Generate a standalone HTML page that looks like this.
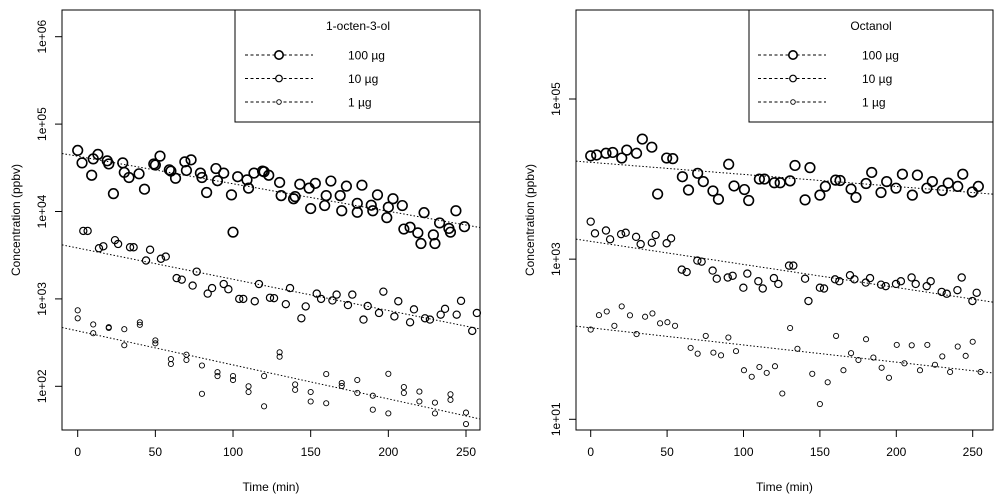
<!DOCTYPE html>
<html><head><meta charset="utf-8">
<style>
html,body{margin:0;padding:0;background:#fff;}
svg{display:block;font-family:"Liberation Sans",Arial,sans-serif;}
</style></head>
<body>
<svg id="chart" width="1000" height="498" viewBox="0 0 1000 498" xmlns="http://www.w3.org/2000/svg"></svg>
<script>
// ---- Left panel data: 1-octen-3-ol ----
const L100_t=[0,2.8,9,10,13,19,20,23,29,30,33,39.5,43,49,50,53,59,60,63,69,70,73,79,80,83,89,90,94,99,100,103,109,110,113.5,119,120,123,130,131,139,140,143,149,150,153,159,160,163,169,170,173,180,180,183,189,190,193,199,200,203,209,210,214,219,221,223,229,230,233,239,240,243.5,249];
const L100_v=[50000,36000,26000,40000,45000,38000,35000,16000,36000,28000,24500,27000,18000,35000,34000,43000,30000,29000,24000,37000,29500,39000,27500,24500,16500,31000,22500,27500,15500,5800,25000,23000,18500,27500,29000,28500,26000,21500,15200,14000,14800,20500,18500,10800,21000,11700,15200,22300,15200,10200,19500,12400,9800,20000,11800,10200,15500,8500,11200,14000,11700,6300,6600,5700,4300,9700,5400,4300,7400,6400,5800,10200,6700];
const L10_t=[3.6,6.4,13.7,16.5,24,26,33.7,36,44,46.6,53.6,56.7,63.7,67,74,76.6,83.7,86.5,94,97,104,106.6,114,116.7,123.8,126.4,134,136.7,144,146.8,153.9,156.7,164,166.7,174,176.8,184,186.7,194,196.8,203.9,206.4,214,216.5,223.6,226.8,233.7,236.5,244,246.8,254,257];
const L10_v=[6000,6000,3800,4000,4700,4250,3900,3900,2750,3650,2880,3050,1730,1660,1420,2050,1150,1330,1480,1290,1000,1000,940,1480,1030,1020,870,1330,600,820,1150,1000,960,1120,850,1120,580,830,690,1210,630,940,540,760,600,580,660,770,660,950,430,690];
const L1_t=[0,0,10,10,20,20,30,30,40,40,50,50,60,60,70,70,80,80,90,90,100,100,110,110,120,120,130,130,140,140,150,150,160,160,170,170,180,180,190,190,200,200,210,210,220,220,230,230,240,240,250,250];
const L1_v=[740,600,510,405,475,465,450,295,540,505,335,310,205,180,230,200,173,82,145,131,131,118,100,86,131,59,245,218,105,91,86,67,138,64,109,101,118,84,78,54,139,49,98,84,87,67,65,49,81,70,50,37];
const L_ticksY=[100,1000,10000,100000,1000000];
const L_tickLabelsY=["1e+02","1e+03","1e+04","1e+05","1e+06"];
// ---- Right panel data: Octanol ----
const R100_t=[0,3.9,10,14.4,20.3,23.6,30,33.8,40,43.8,49.7,53.7,60,64,70,73.7,80,83.6,90.3,93.8,100.6,103.4,110.4,113.7,120.2,124,130.5,133.7,140.3,143.5,150,153.6,160.3,163.2,170.4,173.6,180.2,183.9,190,193.7,199.8,204,210.5,213.8,220,223.6,230.1,234,240.2,243.5,249.8,253.7];
const R100_v=[19500,20000,21000,21500,18300,23000,21000,31600,25000,6500,18300,18000,10700,7300,11800,9300,7100,5600,15300,8200,7400,5400,10000,10000,9000,9000,9500,14800,5500,13900,6300,8100,9700,9600,7500,5900,8800,12100,6800,9300,7700,11500,6300,11200,7700,9300,7200,8900,8100,11500,6900,8100];
const R10_t=[0,2.8,10,12.7,19.9,22.9,29.7,32.7,40,42.5,49.7,52.6,59.6,62.8,69.8,72.6,79.8,82.5,89.7,92.9,99.9,102.5,109.7,112.6,119.9,122.8,129.8,132.6,140.3,142.5,150,152.7,159.9,162.7,169.7,172.6,180,182.8,190,193.1,199.8,203,210,212.7,219.9,222.5,229.7,233,240,242.8,249.8,252.6];
const R10_v=[2940,2100,2280,1770,2050,2140,1900,1540,1600,2000,1580,1820,740,690,960,930,720,570,590,620,440,660,530,430,580,490,830,830,570,300,440,430,560,530,630,560,510,580,480,460,490,530,590,490,460,530,390,370,410,590,300,380];
const R1_t=[0,5.4,10.5,15.5,20.3,25.7,30,35.6,40.4,45.4,50.2,55.2,65.4,70,75.3,80.3,85.3,90.1,95.1,100.3,105.4,110.4,115.2,120.6,125.4,130.5,135.3,145,150,155.1,160.6,165.4,170.4,175.2,180.2,185,190.4,195.2,200.3,205.3,210.1,215.5,220.3,225.3,230.1,235.2,240.2,245.4,250,255.2];
const R1_v=[132,200,222,147,257,199,116,191,210,158,163,147,78,66,110,68,63,105,71,41,34,45,38,46,21,138,76,37,15.5,29,110,41,67,55,100,59,44,33,85,50,84,41,85,48,61,39,81,62,93,39];
const R_ticksY=[10,1000,100000];
const R_tickLabelsY=["1e+01","1e+03","1e+05"];
const ticksX=[0,50,100,150,200,250];
const legendLabels=["100 µg","10 µg","1 µg"];

const NS="http://www.w3.org/2000/svg";
const svg=document.getElementById('chart');
function mk(tag,attrs,parent){const e=document.createElementNS(NS,tag);for(const k in attrs)e.setAttribute(k,attrs[k]);(parent||svg).appendChild(e);return e;}

function panel(cfg){
  const g=mk('g',{});
  
  
  const xs=t=>cfg.x0+(t-0)*(cfg.x250-cfg.x0)/250;
  const ys=v=>cfg.yA+(Math.log10(v)-cfg.logA)*(cfg.yB-cfg.yA)/(cfg.logB-cfg.logA);
  // plot box
  const box=mk('rect',{x:cfg.bx0,y:cfg.by0,width:cfg.bx1-cfg.bx0,height:cfg.by1-cfg.by0,fill:'none',stroke:'#000','stroke-width':1},g);
  
  
  // x axis
  const xa=mk('g',{},g);
  
  
  mk('line',{x1:xs(ticksX[0]),x2:xs(ticksX[ticksX.length-1]),y1:cfg.by1,y2:cfg.by1,stroke:'#000'},xa);
  ticksX.forEach(t=>{
    mk('line',{x1:xs(t),x2:xs(t),y1:cfg.by1,y2:cfg.by1+7,stroke:'#000'},xa);
    const tx=mk('text',{x:xs(t),y:cfg.by1+26,'text-anchor':'middle','font-size':12},xa);
    tx.textContent=t;
    
    
  });
  const xt=mk('text',{x:(cfg.bx0+cfg.bx1)/2,y:491,'text-anchor':'middle','font-size':12},g);
  xt.textContent='Time (min)';
  
  
  // y axis
  const ya=mk('g',{},g);
  
  
  mk('line',{x1:cfg.bx0,x2:cfg.bx0,y1:ys(cfg.ticksY[0]),y2:ys(cfg.ticksY[cfg.ticksY.length-1]),stroke:'#000'},ya);
  cfg.ticksY.forEach((v,i)=>{
    const y=ys(v);
    mk('line',{x1:cfg.bx0-7,x2:cfg.bx0,y1:y,y2:y,stroke:'#000'},ya);
    const tx=mk('text',{x:0,y:0,'text-anchor':'middle','font-size':12,transform:`translate(${cfg.bx0-16},${y}) rotate(-90)`},ya);
    tx.textContent=cfg.tickLabelsY[i];
    
    
  });
  const yt=mk('text',{x:0,y:0,'text-anchor':'middle','font-size':12,transform:`translate(${cfg.bx0-42},${(cfg.by0+cfg.by1)/2}) rotate(-90)`},g);
  yt.textContent='Concentration (ppbv)';
  
  
  // series
  const radii=[4.8,3.6,2.6], widths=[1.6,1.2,0.9];
  const tMin=(cfg.bx0-cfg.x0)*250/(cfg.x250-cfg.x0), tMax=(cfg.bx1-cfg.x0)*250/(cfg.x250-cfg.x0);
  cfg.series.forEach((s,si)=>{
    const sg=mk('g',{},g);
    
    
    // regression on log
    const n=s.t.length;let mx=0,my=0;
    for(let i=0;i<n;i++){mx+=s.t[i];my+=Math.log10(s.v[i]);}
    mx/=n;my/=n;let sxy=0,sxx=0;
    for(let i=0;i<n;i++){sxy+=(s.t[i]-mx)*(Math.log10(s.v[i])-my);sxx+=(s.t[i]-mx)**2;}
    const b=sxy/sxx,a=my-b*mx;
    const tl=mk('line',{x1:cfg.bx0,y1:ys(Math.pow(10,a+b*tMin)),x2:cfg.bx1,y2:ys(Math.pow(10,a+b*tMax)),stroke:'#000','stroke-width':1,'stroke-dasharray':'1.5 2'},sg);
    
    
    for(let i=0;i<n;i++){
      const c=mk('circle',{cx:xs(s.t[i]),cy:ys(s.v[i]),r:radii[si],fill:'none',stroke:'#000','stroke-width':widths[si]},sg);
      
      
    }
  });
  // legend
  const lg=mk('g',{},g);
  
  
  mk('rect',{x:cfg.lx0,y:cfg.by0,width:cfg.bx1-cfg.lx0,height:112,fill:'#fff',stroke:'#000'},lg);
  const lt=mk('text',{x:cfg.ltx,y:30,'text-anchor':'middle','font-size':12},lg);
  lt.textContent=cfg.title;
  
  
  const lr=[4.2,3.3,2.3];
  legendLabels.forEach((lab,i)=>{
    const y=55+i*23.5;
    const e=mk('g',{},lg);
    
    
    mk('line',{x1:cfg.llx0,x2:cfg.llx1,y1:y,y2:y,stroke:'#000','stroke-dasharray':'3 2.5'},e);
    mk('circle',{cx:cfg.lcx,cy:y,r:lr[i],fill:'#fff',stroke:'#000','stroke-width':widths[i]},e);
    const t=mk('text',{x:cfg.ltxt,y:y+4.5,'font-size':12},e);
    t.textContent=lab;
  });
}

panel({name:'panel-1-octen-3-ol',title:'1-octen-3-ol',bx0:62,bx1:480,by0:10,by1:430,x0:77.7,x250:466,
  yA:386.3,logA:2,yB:36.7,logB:6,ticksY:L_ticksY,tickLabelsY:L_tickLabelsY,
  lx0:235,ltx:358,llx0:245,llx1:313,lcx:279,ltxt:348,
  series:[{name:'series-100ug',t:L100_t,v:L100_v},{name:'series-10ug',t:L10_t,v:L10_v},{name:'series-1ug',t:L1_t,v:L1_v}]});
panel({name:'panel-octanol',title:'Octanol',bx0:576,bx1:993,by0:10,by1:430,x0:590.7,x250:972.7,
  yA:419.3,logA:1,yB:99,logB:5,ticksY:R_ticksY,tickLabelsY:R_tickLabelsY,
  lx0:749,ltx:871,llx0:758,llx1:826,lcx:793,ltxt:862,
  series:[{name:'series-100ug',t:R100_t,v:R100_v},{name:'series-10ug',t:R10_t,v:R10_v},{name:'series-1ug',t:R1_t,v:R1_v}]});
</script>
</body></html>
